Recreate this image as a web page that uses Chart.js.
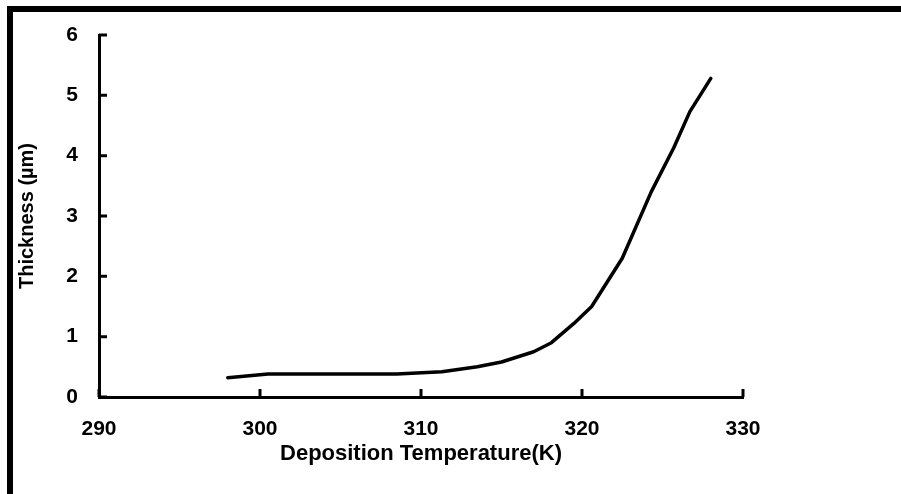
<!DOCTYPE html>
<html>
<head>
<meta charset="utf-8">
<title>Thickness vs Deposition Temperature</title>
<script src="https://cdn.jsdelivr.net/npm/chart.js@4/dist/chart.umd.min.js"></script>
<style>
  html, body { margin: 0; padding: 0; background: #fff; overflow: hidden; }
  #wrap { position: relative; width: 901px; height: 494px; }
  #chart { position: absolute; left: 0; top: 0; }
  /* heavy frame, only top and left edges are visible */
  #frame {
    position: absolute; left: 7px; top: 6px; right: 0; bottom: 0;
    border-top: 6px solid #000; border-left: 6px solid #000;
    pointer-events: none;
  }
</style>
</head>
<body>
<div id="wrap">
  <canvas id="chart" width="901" height="494"></canvas>
  <div id="frame"></div>
</div>
<script>
// ---- data ----
const temps     = [298, 300.5, 308.5, 311.3, 313.5, 315, 317, 318.1, 319.5, 320.6, 322.5, 324.3, 325.7, 326.7, 328];
const thickness = [0.32, 0.38, 0.38, 0.42, 0.5, 0.58, 0.75, 0.9, 1.22, 1.5, 2.3, 3.4, 4.13, 4.73, 5.28];

const xTitle = 'Deposition Temperature(K)';
const yTitle = 'Thickness (\u00b5m)';

const FONT = "'Liberation Sans', Arial, sans-serif";

// ticks in this plot point inward, so draw them ourselves from the scales
const inwardTicks = {
  id: 'inwardTicks',
  afterDraw(chart) {
    const { ctx, scales: { x, y } } = chart;
    const len = 8;
    ctx.save();
    ctx.strokeStyle = '#000';
    ctx.lineWidth = 3;
    ctx.lineCap = 'butt';
    ctx.beginPath();
    x.ticks.forEach(t => {
      const px = x.getPixelForValue(t.value);
      ctx.moveTo(px, x.top);
      ctx.lineTo(px, x.top - len);
    });
    y.ticks.forEach(t => {
      const py = y.getPixelForValue(t.value);
      ctx.moveTo(y.right, py);
      ctx.lineTo(y.right + len, py);
    });
    ctx.stroke();
    ctx.restore();
  }
};

new Chart(document.getElementById('chart'), {
  type: 'line',
  data: {
    datasets: [{
      data: temps.map((t, i) => ({ x: t, y: thickness[i] })),
      borderColor: '#000',
      borderWidth: 3.5,
      borderCapStyle: 'round',
      borderJoinStyle: 'round',
      tension: 0,
      pointRadius: 0,
      fill: false
    }]
  },
  options: {
    responsive: false,
    animation: false,
    layout: { padding: { left: 13, top: 35, right: 158, bottom: 27 } },
    plugins: { legend: { display: false }, tooltip: { enabled: false } },
    scales: {
      x: {
        type: 'linear', min: 290, max: 330,
        afterFit: s => { s.height = 70; },
        ticks: { stepSize: 10, color: '#000', padding: 20, maxRotation: 0,
                 font: { family: FONT, size: 21, weight: 'bold' } },
        grid: { drawOnChartArea: false, drawTicks: false },
        border: { color: '#000', width: 3 },
        title: { display: true, text: xTitle, color: '#000', padding: { top: 0, bottom: 0 },
                 font: { family: FONT, size: 22, weight: 'bold' } }
      },
      y: {
        min: 0, max: 6,
        afterFit: s => { s.width = 86; },
        ticks: { stepSize: 1, color: '#000', padding: 21,
                 font: { family: FONT, size: 21, weight: 'bold' } },
        grid: { drawOnChartArea: false, drawTicks: false },
        border: { color: '#000', width: 3 },
        title: { display: true, text: yTitle, color: '#000', padding: { top: 2, bottom: 0 },
                 font: { family: FONT, size: 20, weight: 'bold' } }
      }
    }
  },
  plugins: [inwardTicks]
});
</script>
</body>
</html>
